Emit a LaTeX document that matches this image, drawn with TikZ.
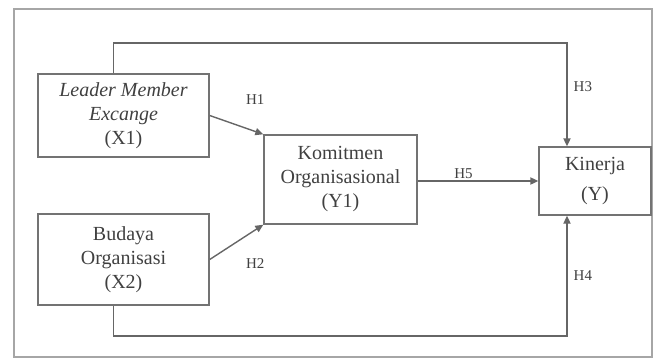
\documentclass[tikz,border=0pt]{standalone}
\usepackage{fontspec}
\setmainfont{Liberation Serif}
\usepackage{tikz}
\usetikzlibrary{arrows.meta, positioning, calc}

\begin{document}
\begin{tikzpicture}[x=0.5pt, y=-0.5pt,
    box/.style={rectangle, draw=black!55, line width=0.7pt, text=black!75, align=center, font=\fontsize{10}{12}\selectfont, inner sep=1pt},
    arrow/.style={-{Triangle[length=4pt, width=3.6pt]}, draw=black!60, line width=0.7pt},
    hlabel/.style={font=\fontsize{7.5}{9}\selectfont, text=black!75, inner sep=1pt}]

    \useasboundingbox (0,0) rectangle (659,364);

    % Outer frame
    \draw[black!35, line width=0.8pt] (14,9) rectangle (652,357);

    % Variables
    \node[box, minimum width=85.5pt, minimum height=41.5pt] (x1) at (123.5,115.5) {\textit{Leader Member}\\\textit{Excange}\\(X1)};
    \node[box, minimum width=85.5pt, minimum height=45.5pt] (x2) at (123.5,259.5) {Budaya\\Organisasi\\(X2)};
    \node[box, minimum width=76.5pt, minimum height=44.5pt] (y1) at (340.5,179.5) {Komitmen\\Organisasional\\(Y1)};
    \node[box, minimum width=56pt, minimum height=34pt] (y) at (595,181) {Kinerja\\[3pt](Y)};

    % Corner points of the outer paths
    \coordinate (h3top) at (567,43);
    \coordinate (h4bot) at (567,336);

    % Direct effects
    \draw[arrow] (x1.east) -- node[hlabel, pos=0.85, above=12pt] (h1) {H1} (y1.north west);
    \draw[arrow] (x2.east) -- node[hlabel, pos=0.85, below=13pt] (h2) {H2} (y1.south west);
    \draw[arrow] (y1.east |- y.west) -- node[hlabel, pos=0.38, above] (h5) {H5} (y.west);

    % Outer paths to Kinerja
    \draw[arrow] ([xshift=-5pt]x1.north) |- (h3top) -- node[hlabel, pos=0.42, right=2pt] (h3) {H3} ([xshift=-14pt]y.north);
    \draw[arrow] ([xshift=-5pt]x2.south) |- (h4bot) -- node[hlabel, pos=0.5, right=2pt] (h4) {H4} ([xshift=-14pt]y.south);

\end{tikzpicture}
\end{document}
